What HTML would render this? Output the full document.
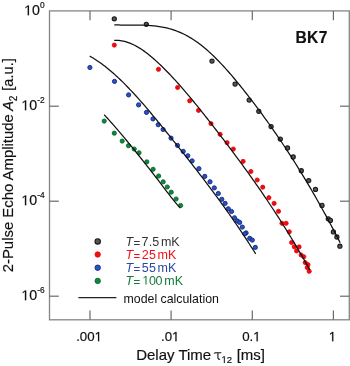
<!DOCTYPE html>
<html><head><meta charset="utf-8"><style>
html,body{margin:0;padding:0;background:#fff;}
body{width:350px;height:366px;overflow:hidden;}
svg{display:block;font-family:"Liberation Sans",sans-serif;will-change:transform;}
.k{fill:#555;stroke:#1a1a1a;stroke-width:1.1;}
.r{fill:#f20c12;stroke:#e60008;stroke-width:0.8;}
.b{fill:#3252b2;stroke:#0e2e9c;stroke-width:1.0;}
.g{fill:#13853d;stroke:#006c2a;stroke-width:0.9;}
.crv{fill:none;stroke:#111;stroke-width:1.25;stroke-linecap:butt;stroke-linejoin:round;}
</style></head><body>
<svg width="350" height="366" viewBox="0 0 350 366">
<rect x="0" y="0" width="350" height="366" fill="#fff"></rect>
<rect x="49.5" y="10.9" width="299.8" height="308.9" fill="none" stroke="#858585" stroke-width="1.3"></rect>
<g stroke="#6a6a6a" stroke-width="1.2">
<line x1="90.0" y1="319.8" x2="90.0" y2="310.5"></line>
<line x1="90.0" y1="10.9" x2="90.0" y2="20.2"></line>
<line x1="171.1" y1="319.8" x2="171.1" y2="310.5"></line>
<line x1="171.1" y1="10.9" x2="171.1" y2="20.2"></line>
<line x1="252.3" y1="319.8" x2="252.3" y2="310.5"></line>
<line x1="252.3" y1="10.9" x2="252.3" y2="20.2"></line>
<line x1="333.4" y1="319.8" x2="333.4" y2="310.5"></line>
<line x1="333.4" y1="10.9" x2="333.4" y2="20.2"></line>
<line x1="49.5" y1="106.2" x2="58.8" y2="106.2"></line>
<line x1="349.3" y1="106.2" x2="340.0" y2="106.2"></line>
<line x1="49.5" y1="201.2" x2="58.8" y2="201.2"></line>
<line x1="349.3" y1="201.2" x2="340.0" y2="201.2"></line>
<line x1="49.5" y1="296.2" x2="58.8" y2="296.2"></line>
<line x1="349.3" y1="296.2" x2="340.0" y2="296.2"></line>
</g>
<g fill="#111" stroke="#111" stroke-width="0.18">
<text x="44.6" y="15.2" text-anchor="end" font-size="14.2"> 0<tspan dy="-6.8" font-size="8.4">0</tspan></text>
<text x="44.6" y="110.2" text-anchor="end" font-size="14.2"> 0<tspan dy="-6.8" font-size="8.4">-2</tspan></text>
<text x="44.6" y="205.2" text-anchor="end" font-size="14.2"> 0<tspan dy="-6.8" font-size="8.4">-4</tspan></text>
<text x="44.6" y="300.2" text-anchor="end" font-size="14.2"> 0<tspan dy="-6.8" font-size="8.4">-6</tspan></text>
<text x="89.1" y="341.2" text-anchor="middle" font-size="13.3">.00 </text>
<text x="170.2" y="341.2" text-anchor="middle" font-size="13.3">.0 </text>
<text x="251.4" y="341.2" text-anchor="middle" font-size="13.3">0. </text>
<text x="332.5" y="341.2" text-anchor="middle" font-size="13.3"> </text>
<text x="136.2" y="359.6" font-size="15">Delay Time</text>
<path d="M214.2 353.6 Q214.6 352.6 216.2 352.8 L221.3 352.8 M217.9 353 L217.9 357.8 Q218 359.5 220.1 359.1" fill="none" stroke="#111" stroke-width="1.1"></path>
<text x="221.5" y="362.9" font-size="9.6"> 2</text>
<text x="236.7" y="359.6" font-size="15">[ms]</text>
<g transform="translate(13.3 272.3) rotate(-90)">
<text x="0" y="0" font-size="14.9">2-Pulse Echo Amplitude</text>
<text x="161.6" y="0" font-size="14.6" font-style="italic">A</text>
<text x="171.0" y="3.4" font-size="10">2</text>
<text x="181.6" y="0" font-size="14.6">[a.u.]</text>
</g>
<text x="295.4" y="43.1" font-size="15.6" font-weight="bold" letter-spacing="0.4">BK7</text>
</g>
<g>
<circle class="g" cx="104.2" cy="121.1" r="2.1"></circle>
<circle class="g" cx="114.3" cy="133.2" r="2.1"></circle>
<circle class="g" cx="122.2" cy="141.1" r="2.1"></circle>
<circle class="g" cx="128.5" cy="145.7" r="2.1"></circle>
<circle class="g" cx="134.2" cy="149.0" r="2.1"></circle>
<circle class="g" cx="139.0" cy="152.8" r="2.1"></circle>
<circle class="g" cx="146.8" cy="161.9" r="2.1"></circle>
<circle class="g" cx="153.1" cy="169.3" r="2.1"></circle>
<circle class="g" cx="158.6" cy="176.0" r="2.1"></circle>
<circle class="g" cx="163.2" cy="181.8" r="2.1"></circle>
<circle class="g" cx="167.3" cy="187.0" r="2.1"></circle>
<circle class="g" cx="171.2" cy="192.2" r="2.1"></circle>
<circle class="g" cx="176.1" cy="199.0" r="2.1"></circle>
<circle class="g" cx="180.6" cy="205.5" r="2.1"></circle>
<circle class="b" cx="89.9" cy="67.5" r="2.1"></circle>
<circle class="b" cx="114.5" cy="81.4" r="2.1"></circle>
<circle class="b" cx="128.6" cy="94.9" r="2.1"></circle>
<circle class="b" cx="138.6" cy="104.9" r="2.1"></circle>
<circle class="b" cx="146.5" cy="112.4" r="2.1"></circle>
<circle class="b" cx="153.0" cy="118.9" r="2.1"></circle>
<circle class="b" cx="158.2" cy="124.7" r="2.1"></circle>
<circle class="b" cx="163.1" cy="129.5" r="2.1"></circle>
<circle class="b" cx="171.0" cy="138.1" r="2.1"></circle>
<circle class="b" cx="177.5" cy="145.4" r="2.1"></circle>
<circle class="b" cx="183.2" cy="151.4" r="2.1"></circle>
<circle class="b" cx="187.8" cy="155.8" r="2.1"></circle>
<circle class="b" cx="192.1" cy="160.9" r="2.1"></circle>
<circle class="b" cx="198.9" cy="168.7" r="2.1"></circle>
<circle class="b" cx="204.8" cy="176.4" r="2.1"></circle>
<circle class="b" cx="210.0" cy="181.8" r="2.1"></circle>
<circle class="b" cx="214.3" cy="187.9" r="2.1"></circle>
<circle class="b" cx="218.3" cy="193.5" r="2.1"></circle>
<circle class="b" cx="221.8" cy="199.3" r="2.1"></circle>
<circle class="b" cx="225.1" cy="203.4" r="2.1"></circle>
<circle class="b" cx="228.3" cy="208.8" r="2.1"></circle>
<circle class="b" cx="231.5" cy="211.5" r="2.1"></circle>
<circle class="b" cx="234.5" cy="217.8" r="2.1"></circle>
<circle class="b" cx="237.3" cy="220.9" r="2.1"></circle>
<circle class="b" cx="239.6" cy="222.4" r="2.1"></circle>
<circle class="b" cx="242.3" cy="227.1" r="2.1"></circle>
<circle class="b" cx="246.1" cy="232.9" r="2.1"></circle>
<circle class="b" cx="244.8" cy="233.8" r="2.1"></circle>
<circle class="b" cx="249.7" cy="238.3" r="2.1"></circle>
<circle class="b" cx="252.3" cy="240.1" r="2.1"></circle>
<circle class="b" cx="255.3" cy="247.4" r="2.1"></circle>
<circle class="r" cx="114.3" cy="45.1" r="2.1"></circle>
<circle class="r" cx="158.5" cy="69.3" r="2.1"></circle>
<circle class="r" cx="177.6" cy="87.5" r="2.1"></circle>
<circle class="r" cx="189.7" cy="100.8" r="2.1"></circle>
<circle class="r" cx="198.5" cy="110.4" r="2.1"></circle>
<circle class="r" cx="211.0" cy="123.6" r="2.1"></circle>
<circle class="r" cx="220.1" cy="134.3" r="2.1"></circle>
<circle class="r" cx="227.1" cy="142.7" r="2.1"></circle>
<circle class="r" cx="233.3" cy="149.1" r="2.1"></circle>
<circle class="r" cx="243.1" cy="161.4" r="2.1"></circle>
<circle class="r" cx="250.9" cy="171.5" r="2.1"></circle>
<circle class="r" cx="257.2" cy="180.0" r="2.1"></circle>
<circle class="r" cx="262.7" cy="187.2" r="2.1"></circle>
<circle class="r" cx="268.9" cy="197.7" r="2.1"></circle>
<circle class="r" cx="274.1" cy="203.4" r="2.1"></circle>
<circle class="r" cx="278.5" cy="211.3" r="2.1"></circle>
<circle class="r" cx="282.0" cy="223.3" r="2.1"></circle>
<circle class="r" cx="286.1" cy="223.3" r="2.1"></circle>
<circle class="r" cx="289.3" cy="231.8" r="2.1"></circle>
<circle class="r" cx="291.6" cy="242.5" r="2.1"></circle>
<circle class="r" cx="294.3" cy="246.8" r="2.1"></circle>
<circle class="r" cx="299.1" cy="246.9" r="2.1"></circle>
<circle class="r" cx="296.6" cy="250.9" r="2.1"></circle>
<circle class="r" cx="301.1" cy="255.0" r="2.1"></circle>
<circle class="r" cx="303.8" cy="256.8" r="2.1"></circle>
<circle class="r" cx="305.2" cy="262.6" r="2.1"></circle>
<circle class="r" cx="308.0" cy="264.7" r="2.1"></circle>
<circle class="r" cx="307.2" cy="267.6" r="2.1"></circle>
<circle class="r" cx="309.2" cy="271.3" r="2.1"></circle>
<circle class="k" cx="114.3" cy="18.8" r="2.1"></circle>
<circle class="k" cx="146.3" cy="24.3" r="2.1"></circle>
<circle class="k" cx="212.0" cy="61.1" r="2.1"></circle>
<circle class="k" cx="235.1" cy="84.1" r="2.1"></circle>
<circle class="k" cx="249.2" cy="100.1" r="2.1"></circle>
<circle class="k" cx="258.8" cy="111.3" r="2.1"></circle>
<circle class="k" cx="271.1" cy="126.6" r="2.1"></circle>
<circle class="k" cx="280.3" cy="139.1" r="2.1"></circle>
<circle class="k" cx="287.5" cy="148.0" r="2.1"></circle>
<circle class="k" cx="293.2" cy="157.0" r="2.1"></circle>
<circle class="k" cx="301.3" cy="170.7" r="2.1"></circle>
<circle class="k" cx="308.7" cy="180.6" r="2.1"></circle>
<circle class="k" cx="315.5" cy="189.4" r="2.1"></circle>
<circle class="k" cx="322.0" cy="205.4" r="2.1"></circle>
<circle class="k" cx="328.3" cy="218.8" r="2.1"></circle>
<circle class="k" cx="330.4" cy="220.4" r="2.1"></circle>
<circle class="k" cx="333.4" cy="231.9" r="2.1"></circle>
<circle class="k" cx="336.9" cy="237.0" r="2.1"></circle>
<circle class="k" cx="339.9" cy="246.2" r="2.1"></circle>
</g>
<g>
<path class="crv" d="M114.30 24.82 L115.80 24.89 L117.29 24.94 L118.79 24.99 L120.28 25.02 L121.78 25.05 L123.28 25.06 L124.77 25.08 L126.27 25.08 L127.76 25.09 L129.26 25.09 L130.76 25.09 L132.25 25.09 L133.75 25.09 L135.24 25.10 L136.74 25.10 L138.24 25.12 L139.73 25.14 L141.23 25.16 L142.72 25.20 L144.22 25.25 L145.72 25.30 L147.21 25.37 L148.71 25.46 L150.20 25.55 L151.70 25.67 L153.20 25.80 L154.69 25.95 L156.19 26.12 L157.68 26.31 L159.18 26.53 L160.68 26.76 L162.17 27.03 L163.67 27.31 L165.16 27.63 L166.66 27.97 L168.16 28.34 L169.65 28.75 L171.15 29.18 L172.65 29.64 L174.14 30.14 L175.64 30.66 L177.13 31.22 L178.63 31.82 L180.13 32.44 L181.62 33.11 L183.12 33.80 L184.61 34.54 L186.11 35.30 L187.61 36.11 L189.10 36.95 L190.60 37.84 L192.09 38.76 L193.59 39.72 L195.09 40.72 L196.58 41.76 L198.08 42.83 L199.57 43.95 L201.07 45.10 L202.57 46.29 L204.06 47.51 L205.56 48.77 L207.05 50.07 L208.55 51.39 L210.05 52.75 L211.54 54.14 L213.04 55.56 L214.53 57.01 L216.03 58.49 L217.53 60.00 L219.02 61.53 L220.52 63.09 L222.01 64.68 L223.51 66.29 L225.01 67.93 L226.50 69.59 L228.00 71.28 L229.49 72.98 L230.99 74.71 L232.49 76.46 L233.98 78.23 L235.48 80.02 L236.97 81.82 L238.47 83.65 L239.97 85.48 L241.46 87.34 L242.96 89.21 L244.45 91.10 L245.95 92.99 L247.45 94.91 L248.94 96.83 L250.44 98.76 L251.93 100.71 L253.43 102.67 L254.93 104.65 L256.42 106.63 L257.92 108.63 L259.41 110.65 L260.91 112.67 L262.41 114.71 L263.90 116.77 L265.40 118.83 L266.89 120.91 L268.39 123.01 L269.89 125.12 L271.38 127.24 L272.88 129.38 L274.37 131.53 L275.87 133.70 L277.37 135.88 L278.86 138.08 L280.36 140.29 L281.85 142.52 L283.35 144.76 L284.85 147.02 L286.34 149.29 L287.84 151.58 L289.34 153.89 L290.83 156.21 L292.33 158.55 L293.82 160.91 L295.32 163.28 L296.82 165.67 L298.31 168.07 L299.81 170.49 L301.30 172.93 L302.80 175.39 L304.30 177.86 L305.79 180.35 L307.29 182.86 L308.78 185.39 L310.28 187.94 L311.78 190.50 L313.27 193.08 L314.77 195.68 L316.26 198.30 L317.76 200.94 L319.26 203.59 L320.75 206.27 L322.25 208.96 L323.74 211.68 L325.24 214.41 L326.74 217.16 L328.23 219.93 L329.73 222.73 L331.22 225.54 L332.72 228.37 L334.22 231.22 L335.71 234.10 L337.21 236.99 L338.70 239.90 L340.20 242.84"></path>
<path class="crv" d="M114.20 40.32 L115.69 40.28 L117.19 40.30 L118.68 40.39 L120.17 40.55 L121.67 40.78 L123.16 41.07 L124.65 41.43 L126.15 41.84 L127.64 42.32 L129.13 42.85 L130.62 43.45 L132.12 44.10 L133.61 44.80 L135.10 45.56 L136.60 46.37 L138.09 47.22 L139.58 48.13 L141.08 49.08 L142.57 50.08 L144.06 51.13 L145.56 52.21 L147.05 53.34 L148.54 54.50 L150.04 55.71 L151.53 56.95 L153.02 58.22 L154.51 59.52 L156.01 60.86 L157.50 62.23 L158.99 63.62 L160.49 65.04 L161.98 66.48 L163.47 67.95 L164.97 69.44 L166.46 70.95 L167.95 72.48 L169.45 74.03 L170.94 75.60 L172.43 77.20 L173.93 78.81 L175.42 80.44 L176.91 82.08 L178.40 83.75 L179.90 85.43 L181.39 87.13 L182.88 88.84 L184.38 90.57 L185.87 92.31 L187.36 94.07 L188.86 95.84 L190.35 97.63 L191.84 99.42 L193.34 101.23 L194.83 103.06 L196.32 104.89 L197.82 106.73 L199.31 108.59 L200.80 110.45 L202.29 112.32 L203.79 114.20 L205.28 116.09 L206.77 117.99 L208.27 119.89 L209.76 121.81 L211.25 123.72 L212.75 125.64 L214.24 127.57 L215.73 129.50 L217.23 131.44 L218.72 133.38 L220.21 135.32 L221.71 137.27 L223.20 139.23 L224.69 141.19 L226.18 143.15 L227.68 145.12 L229.17 147.10 L230.66 149.08 L232.16 151.07 L233.65 153.07 L235.14 155.08 L236.64 157.09 L238.13 159.11 L239.62 161.13 L241.12 163.17 L242.61 165.21 L244.10 167.26 L245.60 169.32 L247.09 171.39 L248.58 173.47 L250.07 175.56 L251.57 177.66 L253.06 179.77 L254.55 181.89 L256.05 184.02 L257.54 186.16 L259.03 188.32 L260.53 190.48 L262.02 192.66 L263.51 194.85 L265.01 197.05 L266.50 199.26 L267.99 201.49 L269.49 203.73 L270.98 205.98 L272.47 208.24 L273.96 210.52 L275.46 212.81 L276.95 215.12 L278.44 217.44 L279.94 219.77 L281.43 222.12 L282.92 224.48 L284.42 226.86 L285.91 229.25 L287.40 231.66 L288.90 234.08 L290.39 236.52 L291.88 238.97 L293.38 241.44 L294.87 243.93 L296.36 246.44 L297.85 248.97 L299.35 251.51 L300.84 254.07 L302.33 256.66 L303.83 259.27 L305.32 261.90 L306.81 264.55 L308.31 267.22 L309.80 269.92"></path>
<path class="crv" d="M89.70 56.09 L91.20 56.93 L92.69 57.81 L94.19 58.72 L95.68 59.67 L97.18 60.65 L98.67 61.67 L100.17 62.72 L101.66 63.79 L103.16 64.91 L104.65 66.05 L106.15 67.22 L107.65 68.42 L109.14 69.65 L110.64 70.91 L112.13 72.20 L113.63 73.51 L115.12 74.85 L116.62 76.22 L118.11 77.61 L119.61 79.02 L121.11 80.46 L122.60 81.92 L124.10 83.41 L125.59 84.91 L127.09 86.44 L128.58 87.99 L130.08 89.56 L131.57 91.14 L133.07 92.75 L134.56 94.37 L136.06 96.01 L137.56 97.67 L139.05 99.35 L140.55 101.04 L142.04 102.74 L143.54 104.46 L145.03 106.19 L146.53 107.94 L148.02 109.69 L149.52 111.46 L151.02 113.24 L152.51 115.03 L154.01 116.84 L155.50 118.64 L157.00 120.46 L158.49 122.29 L159.99 124.12 L161.48 125.96 L162.98 127.81 L164.47 129.66 L165.97 131.51 L167.47 133.37 L168.96 135.23 L170.46 137.10 L171.95 138.97 L173.45 140.84 L174.94 142.71 L176.44 144.58 L177.93 146.45 L179.43 148.33 L180.93 150.21 L182.42 152.09 L183.92 153.98 L185.41 155.87 L186.91 157.76 L188.40 159.66 L189.90 161.56 L191.39 163.47 L192.89 165.38 L194.38 167.30 L195.88 169.22 L197.38 171.15 L198.87 173.09 L200.37 175.03 L201.86 176.98 L203.36 178.93 L204.85 180.89 L206.35 182.86 L207.84 184.84 L209.34 186.83 L210.84 188.82 L212.33 190.82 L213.83 192.83 L215.32 194.85 L216.82 196.88 L218.31 198.92 L219.81 200.97 L221.30 203.03 L222.80 205.10 L224.29 207.18 L225.79 209.28 L227.29 211.38 L228.78 213.49 L230.28 215.62 L231.77 217.76 L233.27 219.91 L234.76 222.08 L236.26 224.26 L237.75 226.45 L239.25 228.65 L240.75 230.87 L242.24 233.10 L243.74 235.35 L245.23 237.61 L246.73 239.89 L248.22 242.18 L249.72 244.49 L251.21 246.81 L252.71 249.15 L254.20 251.51 L255.70 253.88"></path>
<path class="crv" d="M104.20 114.78 L105.69 116.38 L107.19 118.01 L108.68 119.65 L110.18 121.30 L111.67 122.98 L113.16 124.67 L114.66 126.37 L116.15 128.09 L117.65 129.82 L119.14 131.57 L120.64 133.33 L122.13 135.10 L123.62 136.89 L125.12 138.68 L126.61 140.49 L128.11 142.30 L129.60 144.13 L131.09 145.96 L132.59 147.80 L134.08 149.65 L135.58 151.51 L137.07 153.37 L138.56 155.24 L140.06 157.12 L141.55 159.00 L143.05 160.88 L144.54 162.77 L146.04 164.66 L147.53 166.55 L149.02 168.44 L150.52 170.34 L152.01 172.25 L153.51 174.16 L155.00 176.08 L156.49 178.00 L157.99 179.95 L159.48 181.90 L160.98 183.86 L162.47 185.84 L163.96 187.81 L165.46 189.79 L166.95 191.76 L168.45 193.72 L169.94 195.67 L171.44 197.59 L172.93 199.48 L174.42 201.34 L175.92 203.14 L177.41 204.89 L178.91 206.58 L180.40 208.20"></path>
</g>
<g font-size="12.5">
<circle class="k" cx="97.7" cy="241.4" r="2.7"></circle>
<circle class="r" cx="97.7" cy="254.5" r="2.7"></circle>
<circle class="b" cx="97.7" cy="267.7" r="2.7"></circle>
<circle class="g" cx="97.7" cy="280.9" r="2.7"></circle>
<g font-size="12.5">
<text y="245.6" fill="#333"><tspan x="125.6" font-style="italic">T</tspan><tspan x="133.5" dy="1.0" font-size="11.5">=</tspan><tspan x="141.6" dy="-1.0" letter-spacing="0.1">7.5</tspan><tspan x="160.9">mK</tspan></text>
<text y="258.6" fill="#ee1016"><tspan x="125.6" font-style="italic">T</tspan><tspan x="133.5" dy="1.0" font-size="11.5">=</tspan><tspan x="141.7" dy="-1.0" letter-spacing="0.4">25</tspan><tspan x="157.5">mK</tspan></text>
<text y="271.7" fill="#2a48a6"><tspan x="125.6" font-style="italic">T</tspan><tspan x="133.5" dy="1.0" font-size="11.5">=</tspan><tspan x="141.7" dy="-1.0" letter-spacing="0.4">55</tspan><tspan x="157.5">mK</tspan></text>
<text y="284.6" fill="#137a3a"><tspan x="125.6" font-style="italic">T</tspan><tspan x="133.5" dy="1.0" font-size="11.5">=</tspan><tspan x="142.3" dy="-1.0" letter-spacing="-0.3"> 00</tspan><tspan x="164.3">mK</tspan></text>
</g>
<line x1="78.4" y1="297.6" x2="116.4" y2="297.6" stroke="#222" stroke-width="1.3"></line>
<text x="123.5" y="302.9" fill="#111" font-size="12.35">model calculation</text>
</g>
<g><path d="M515 0L515 1237L197 1010L197 1180L530 1409L696 1409L696 0Z" fill="rgb(17, 17, 17)" stroke="rgb(17, 17, 17)" stroke-width="26.0" stroke-linejoin="round" transform="translate(24.15 15.20) scale(0.006934 -0.006934)"></path><path d="M515 0L515 1237L197 1010L197 1180L530 1409L696 1409L696 0Z" fill="rgb(17, 17, 17)" stroke="rgb(17, 17, 17)" stroke-width="26.0" stroke-linejoin="round" transform="translate(21.37 110.20) scale(0.006934 -0.006934)"></path><path d="M515 0L515 1237L197 1010L197 1180L530 1409L696 1409L696 0Z" fill="rgb(17, 17, 17)" stroke="rgb(17, 17, 17)" stroke-width="26.0" stroke-linejoin="round" transform="translate(21.37 205.20) scale(0.006934 -0.006934)"></path><path d="M515 0L515 1237L197 1010L197 1180L530 1409L696 1409L696 0Z" fill="rgb(17, 17, 17)" stroke="rgb(17, 17, 17)" stroke-width="26.0" stroke-linejoin="round" transform="translate(21.37 300.20) scale(0.006934 -0.006934)"></path><path d="M515 0L515 1237L197 1010L197 1180L530 1409L696 1409L696 0Z" fill="rgb(17, 17, 17)" stroke="rgb(17, 17, 17)" stroke-width="27.7" stroke-linejoin="round" transform="translate(94.64 341.20) scale(0.006494 -0.006494)"></path><path d="M515 0L515 1237L197 1010L197 1180L530 1409L696 1409L696 0Z" fill="rgb(17, 17, 17)" stroke="rgb(17, 17, 17)" stroke-width="27.7" stroke-linejoin="round" transform="translate(172.03 341.20) scale(0.006494 -0.006494)"></path><path d="M515 0L515 1237L197 1010L197 1180L530 1409L696 1409L696 0Z" fill="rgb(17, 17, 17)" stroke="rgb(17, 17, 17)" stroke-width="27.7" stroke-linejoin="round" transform="translate(253.23 341.20) scale(0.006494 -0.006494)"></path><path d="M515 0L515 1237L197 1010L197 1180L530 1409L696 1409L696 0Z" fill="rgb(17, 17, 17)" stroke="rgb(17, 17, 17)" stroke-width="27.7" stroke-linejoin="round" transform="translate(328.80 341.20) scale(0.006494 -0.006494)"></path><path d="M515 0L515 1237L197 1010L197 1180L530 1409L696 1409L696 0Z" fill="rgb(17, 17, 17)" stroke="rgb(17, 17, 17)" stroke-width="38.4" stroke-linejoin="round" transform="translate(221.50 362.90) scale(0.004687 -0.004687)"></path><path d="M515 0L515 1237L197 1010L197 1180L530 1409L696 1409L696 0Z" fill="rgb(19, 122, 58)" transform="translate(142.30 284.60) scale(0.006104 -0.006104)"></path></g></svg>

</body></html>
